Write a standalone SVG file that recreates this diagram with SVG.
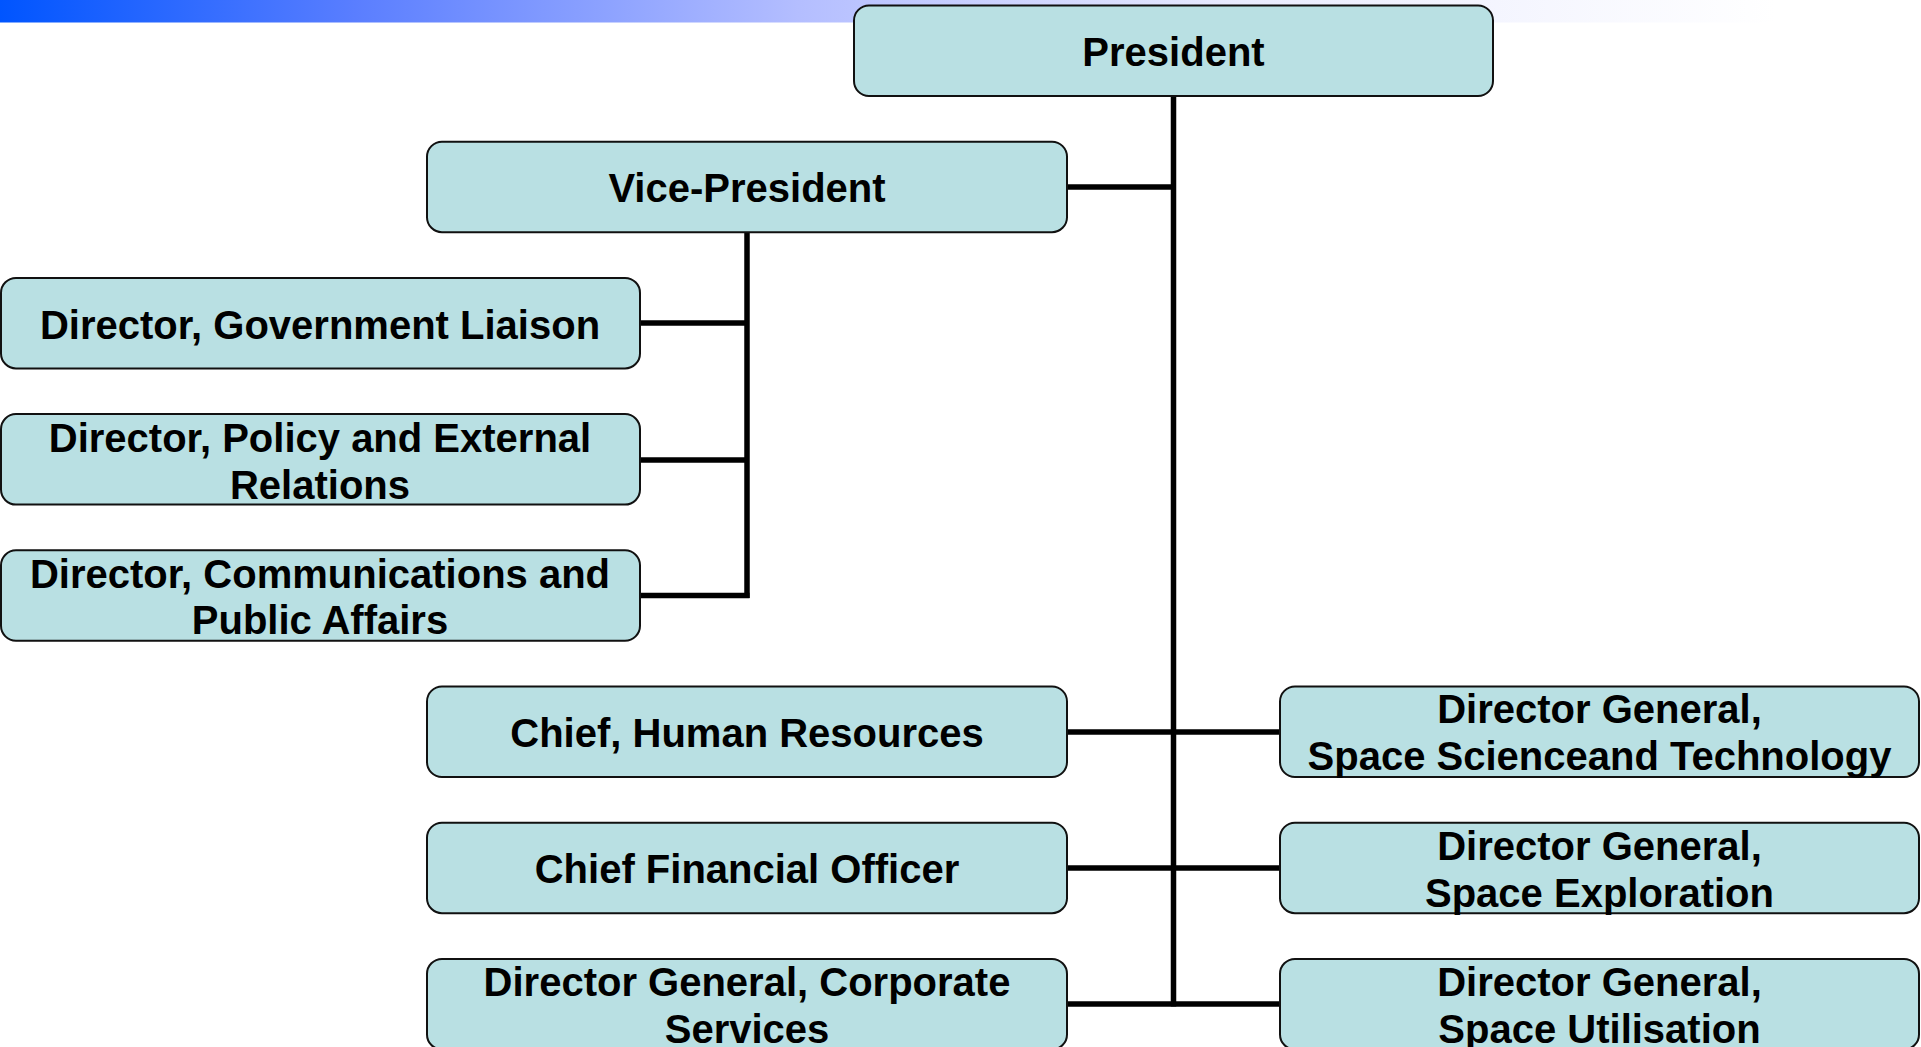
<svg xmlns="http://www.w3.org/2000/svg" width="1921" height="1047" viewBox="0 0 1921 1047">
<defs>
<linearGradient id="bar" x1="0" y1="0" x2="1" y2="0">
<stop offset="0" stop-color="#0055ff"/>
<stop offset="0.2" stop-color="#5a7eff"/>
<stop offset="0.45" stop-color="#b4beff"/>
<stop offset="0.7" stop-color="#eaecfe"/>
<stop offset="1" stop-color="#ffffff"/>
</linearGradient>
</defs>
<style>
.box{fill:#b9e0e3;stroke:#111;stroke-width:2}
.t{font-family:"Liberation Sans",Arial,sans-serif;font-weight:bold;font-size:40px;fill:#000;text-anchor:middle}
.c{stroke:#000;stroke-width:5.5;fill:none}
</style>
<rect x="0" y="0" width="1776" height="22.5" fill="url(#bar)"/>
<g id="connectors">
<line class="c" x1="1173.5" y1="96" x2="1173.5" y2="1006.5"/>
<line class="c" x1="1067" y1="187" x2="1173.5" y2="187"/>
<line class="c" x1="747" y1="232" x2="747" y2="598"/>
<line class="c" x1="640" y1="323" x2="747" y2="323"/>
<line class="c" x1="640" y1="460" x2="747" y2="460"/>
<line class="c" x1="640" y1="595.5" x2="749.5" y2="595.5"/>
<line class="c" x1="1067" y1="732" x2="1280" y2="732"/>
<line class="c" x1="1067" y1="868" x2="1280" y2="868"/>
<line class="c" x1="1067" y1="1004" x2="1280" y2="1004"/>
</g>
<g id="president">
<rect class="box" x="854" y="5.5" width="639" height="90.5" rx="15"/>
<text class="t" x="1173.5" y="66">President</text>
</g>
<g id="vice-president">
<rect class="box" x="427" y="141.7" width="640" height="90.5" rx="15"/>
<text class="t" x="747" y="202">Vice-President</text>
</g>
<g id="dir-gov-liaison">
<rect class="box" x="1" y="277.9" width="639" height="90.5" rx="15"/>
<text class="t" x="320" y="339">Director, Government Liaison</text>
</g>
<g id="dir-policy">
<rect class="box" x="1" y="414.1" width="639" height="90.5" rx="15"/>
<text class="t" x="320" y="452">Director, Policy and External</text>
<text class="t" x="320" y="499">Relations</text>
</g>
<g id="dir-communications">
<rect class="box" x="1" y="550.3" width="639" height="90.5" rx="15"/>
<text class="t" x="320" y="588">Director, Communications and</text>
<text class="t" x="320" y="634">Public Affairs</text>
</g>
<g id="chief-hr">
<rect class="box" x="427" y="686.5" width="640" height="90.5" rx="15"/>
<text class="t" x="747" y="747">Chief, Human Resources</text>
</g>
<g id="dg-space-science">
<rect class="box" x="1280" y="686.5" width="639" height="90.5" rx="15"/>
<text class="t" x="1599.5" y="723">Director General,</text>
<text class="t" x="1599.5" y="770">Space Scienceand Technology</text>
</g>
<g id="cfo">
<rect class="box" x="427" y="822.7" width="640" height="90.5" rx="15"/>
<text class="t" x="747" y="883">Chief Financial Officer</text>
</g>
<g id="dg-space-exploration">
<rect class="box" x="1280" y="822.7" width="639" height="90.5" rx="15"/>
<text class="t" x="1599.5" y="860">Director General,</text>
<text class="t" x="1599.5" y="907">Space Exploration</text>
</g>
<g id="dg-corporate">
<rect class="box" x="427" y="958.9" width="640" height="90.5" rx="15"/>
<text class="t" x="747" y="996">Director General, Corporate</text>
<text class="t" x="747" y="1043">Services</text>
</g>
<g id="dg-space-utilisation">
<rect class="box" x="1280" y="958.9" width="639" height="90.5" rx="15"/>
<text class="t" x="1599.5" y="996">Director General,</text>
<text class="t" x="1599.5" y="1043">Space Utilisation</text>
</g>
</svg>
